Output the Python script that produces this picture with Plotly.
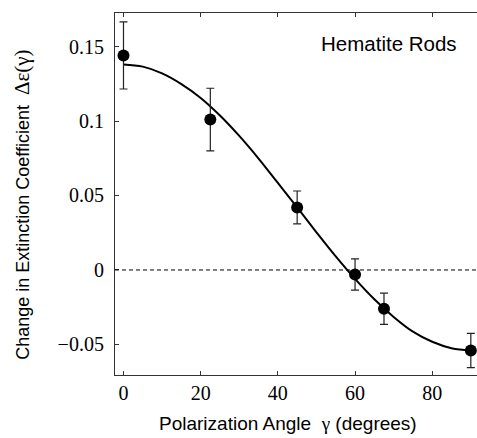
import plotly.graph_objects as go

angles = [0, 22.5, 45, 60, 67.5, 90]
delta_eps = [0.144, 0.101, 0.042, -0.003, -0.026, -0.054]
errors = [0.0225, 0.021, 0.011, 0.0105, 0.0105, 0.0115]

# Fitted curve
fit_angles = [0, 5, 10, 15, 20, 25, 30, 35, 40, 45, 50, 55, 60, 65, 70, 75, 80, 85, 90]
fit_values = [0.138, 0.1365, 0.132, 0.1248, 0.1155, 0.1037, 0.090, 0.0748, 0.0584,
              0.042, 0.0253, 0.0091, -0.006, -0.0197, -0.0315, -0.0414, -0.0482,
              -0.0525, -0.054]

x_ticks = [0, 20, 40, 60, 80]
y_ticks = [0.15, 0.1, 0.05, 0, -0.05]
y_tick_labels = ["0.15", "0.1", "0.05", "0", "\u22120.05"]

serif = "Liberation Serif, Times New Roman, serif"
sans = "Liberation Sans, Arial, sans-serif"

fig = go.Figure()
fig.add_shape(type="line", xref="paper", yref="y", x0=0, x1=1, y0=0, y1=0,
              line=dict(color="black", width=1, dash="4px,3px"))
fig.add_trace(go.Scatter(x=fit_angles, y=fit_values, mode="lines",
                         line=dict(color="black", width=2, shape="spline"),
                         showlegend=False, hoverinfo="skip"))
fig.add_trace(go.Scatter(x=angles, y=delta_eps, mode="markers",
                         marker=dict(color="black", size=12),
                         error_y=dict(type="data", array=errors, color="#222222",
                                      thickness=1.2, width=4),
                         showlegend=False, cliponaxis=False))

fig.update_layout(
    width=477, height=438,
    margin=dict(l=115, r=0, t=13, b=63),
    plot_bgcolor="white", paper_bgcolor="white",
    font=dict(family=serif, color="black", size=15),
    xaxis=dict(range=[-2.2, 91.6], tickvals=x_ticks, ticks="inside", ticklen=4,
               tickcolor="#333", showline=True, linecolor="#333", linewidth=1.2,
               mirror="ticks", showgrid=False, zeroline=False,
               tickfont=dict(family=serif, size=20)),
    yaxis=dict(range=[-0.0705, 0.1725], tickvals=y_ticks, ticktext=y_tick_labels,
               ticks="inside", ticklen=4, tickcolor="#333", showline=True,
               linecolor="#333", linewidth=1.2, showgrid=False, zeroline=False,
               ticklabelstandoff=6,
               tickfont=dict(family=serif, size=20)),
    annotations=[
        dict(text="Hematite Rods", xref="paper", yref="paper", x=0.757, y=0.917,
             xanchor="center", yanchor="middle",
             showarrow=False, font=dict(family=sans, size=20.5, color="black")),
        dict(text="Polarization Angle  <span style='font-family:Liberation Serif'>\u03b3</span> (degrees)",
             xref="paper", yref="paper", x=0.478, y=-0.135,
             xanchor="center", yanchor="middle", showarrow=False,
             font=dict(family=sans, size=19, color="black")),
        dict(text="Change in Extinction Coefficient  <span style='font-family:Liberation Serif;font-size:21px'>\u0394\u03b5(\u03b3)</span>",
             xref="paper", yref="paper", x=-0.257, y=0.47, textangle=-90,
             xanchor="center", yanchor="middle",
             showarrow=False, font=dict(family=sans, size=18, color="black")),
    ],
)

fig.write_html("out.html", config={"displayModeBar": False},
               post_script="document.body.style.margin='0';document.body.style.overflow='hidden';")
